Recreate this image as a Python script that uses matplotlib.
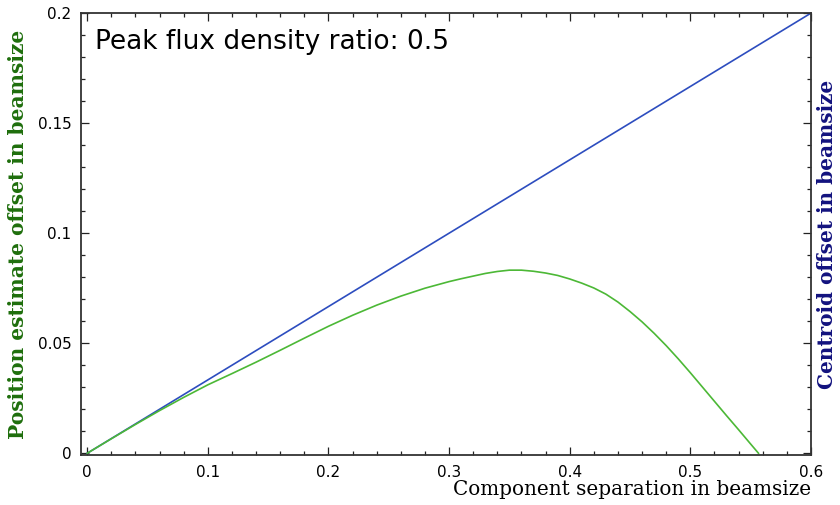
import matplotlib.pyplot as plt
from matplotlib.ticker import MultipleLocator, FuncFormatter

# component separation (beamsize)
sep = [0.00, 0.02, 0.04, 0.06, 0.08, 0.10, 0.12, 0.14, 0.16, 0.18,
       0.20, 0.22, 0.24, 0.26, 0.28, 0.30, 0.31, 0.32, 0.33, 0.34,
       0.35, 0.36, 0.37, 0.38, 0.39, 0.40, 0.41, 0.42, 0.43, 0.44,
       0.45, 0.46, 0.47, 0.48, 0.49, 0.50, 0.51, 0.52, 0.53, 0.54,
       0.55, 0.5565]
# position estimate offset (green)
pos_offset = [0.0, 0.0066, 0.0131, 0.0194, 0.0254, 0.0311, 0.0362, 0.0414, 0.0468, 0.0523,
              0.0577, 0.0627, 0.0673, 0.0714, 0.0750, 0.0780, 0.0793, 0.0805, 0.0817, 0.0826,
              0.0832, 0.0832, 0.0827, 0.0819, 0.0808, 0.0792, 0.0773, 0.0751, 0.0723, 0.0687,
              0.0644, 0.0597, 0.0545, 0.0489, 0.0429, 0.0366, 0.0301, 0.0236, 0.0171, 0.0107,
              0.0042, 0.0]
# centroid offset (blue)
cen_sep = [0.0, 0.6]
cen_offset = [0.0, 0.2]

fig = plt.figure(figsize=(8.4, 5.05), dpi=100)
ax = fig.add_axes([0.0964, 0.099, 0.869, 0.875])

ax.plot(cen_sep, cen_offset, color='#2d4dbf', lw=1.2)
ax.plot(sep, pos_offset, color='#4cb836', lw=1.2)

ax.set_xlim(-0.0052, 0.6)
ax.set_ylim(-0.0008, 0.2)

ax.xaxis.set_major_locator(MultipleLocator(0.1))
ax.xaxis.set_minor_locator(MultipleLocator(0.02))
ax.yaxis.set_major_locator(MultipleLocator(0.05))
ax.yaxis.set_minor_locator(MultipleLocator(0.01))
fmt = FuncFormatter(lambda v, p: '%g' % round(v, 3))
ax.xaxis.set_major_formatter(fmt)
ax.yaxis.set_major_formatter(fmt)

ax.tick_params(which='both', direction='in', top=True, right=True,
               color='#222222', labelsize=11, width=0.9)
ax.tick_params(which='major', length=5.5, pad=7)
ax.tick_params(which='minor', length=3)
for s in ax.spines.values():
    s.set_color('#333333')
    s.set_linewidth(1.3)

ax.text(0.019, 0.935, 'Peak flux density ratio: 0.5', transform=ax.transAxes,
        fontsize=19, va='center', ha='left')

fig.text(0.9655, 0.012, 'Component separation in beamsize', ha='right', va='bottom',
         family='DejaVu Serif', fontsize=14.4)
fig.text(0.022, 0.536, 'Position estimate offset in beamsize', rotation=90,
         ha='center', va='center', family='DejaVu Serif', fontweight='bold',
         fontsize=14.5, color='#1e6e0c')
fig.text(0.985, 0.536, 'Centroid offset in beamsize', rotation=90,
         ha='center', va='center', family='DejaVu Serif', fontweight='bold',
         fontsize=14.4, color='#12127e')

fig.savefig('out.png', dpi=100)
plt.close()
